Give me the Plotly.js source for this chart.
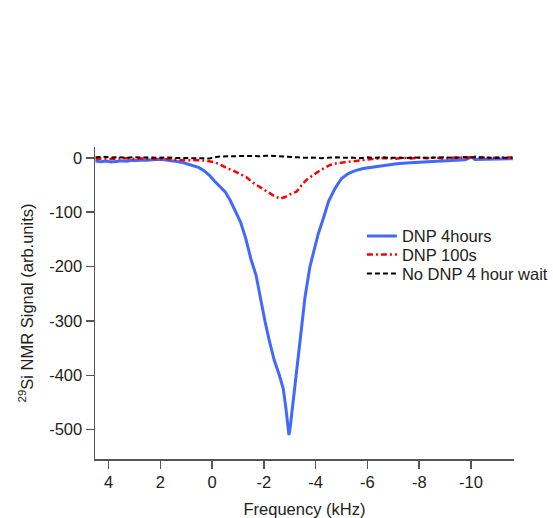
<!DOCTYPE html>
<html>
<head>
<meta charset="utf-8">
<script src="https://cdn.plot.ly/plotly-3.0.1.min.js"></script>
<style>html,body{margin:0;padding:0;background:#fff;}#chart{width:553px;height:518px;}</style>
</head>
<body>
<div id="chart"></div>
<script>
// DNP 4hours (blue)
const blueFreq = [4.50,4.30,4.10,3.90,3.70,3.50,3.30,3.10,2.90,2.70,2.50,2.30,2.10,1.90,1.70,1.50,1.30,1.10,0.90,0.70,0.50,0.30,0.10,-0.10,-0.30,-0.50,-0.70,-0.90,-1.10,-1.30,-1.50,-1.70,-1.90,-2.05,-2.20,-2.40,-2.60,-2.75,-2.85,-2.92,-2.97,-3.02,-3.08,-3.17,-3.27,-3.37,-3.46,-3.59,-3.78,-3.91,-4.10,-4.30,-4.50,-4.75,-5.00,-5.26,-5.50,-5.84,-6.20,-6.49,-6.80,-7.13,-7.50,-8.03,-8.50,-9.06,-9.40,-9.77,-9.95,-10.05,-10.15,-10.50,-10.90,-11.30,-11.62];
const blueSignal = [-6,-7,-6,-7.5,-6.5,-5.5,-6,-4.5,-5,-4,-4.5,-3,-2.5,-3,-4,-5.5,-7,-9,-12,-15,-18,-24,-32,-43,-52,-62,-78,-98,-118,-148,-186,-216,-268,-302,-334,-372,-400,-425,-460,-490,-510,-495,-470,-427,-384,-342,-304,-256,-200,-176,-140,-111,-80,-56,-38,-29,-24,-19.5,-17,-15,-13,-11,-9.5,-7.5,-6.5,-5.5,-4.5,-3.5,0,1,-3,-2.5,-2.5,-2,-1.5];

// DNP 100s (red)
const redFreq = [4.50,4.20,3.90,3.60,3.30,3.00,2.70,2.40,2.10,1.80,1.50,1.20,0.90,0.60,0.30,0.10,-0.10,-0.30,-0.57,-0.81,-1.05,-1.34,-1.59,-1.85,-2.11,-2.36,-2.63,-2.82,-3.01,-3.27,-3.51,-3.70,-3.90,-4.17,-4.56,-4.81,-5.20,-5.50,-5.83,-6.20,-6.49,-6.80,-7.10,-7.40,-7.70,-8.00,-8.30,-8.60,-8.90,-9.20,-9.50,-9.80,-10.10,-10.40,-10.70,-11.00,-11.30,-11.60];
const redSignal = [-2.5,-1,-2,-1.5,-0.5,-2,-1,-1.5,-2.5,-2,-3.5,-4,-4.5,-4,-5,-6,-8,-12,-19,-23,-29,-36,-46,-54,-62,-69,-75,-72,-67,-62,-47,-38,-32,-23,-13,-10,-7.5,-5.5,-4,-2,-1,-0.5,-1.5,0,-1,0.5,-0.5,0.5,-1,0,1,-0.5,2.5,0.5,-0.5,0.5,0,0.5];

// No DNP 4 hour wait (black)
const blackFreq = [4.50,4.20,3.90,3.60,3.30,3.00,2.70,2.40,2.10,1.80,1.50,1.20,0.90,0.60,0.30,0.10,-0.10,-0.30,-0.60,-0.90,-1.20,-1.50,-1.80,-2.10,-2.40,-2.70,-3.00,-3.30,-3.60,-3.90,-4.20,-4.50,-4.80,-5.10,-5.40,-5.70,-6.00,-6.30,-6.60,-6.90,-7.20,-7.50,-7.80,-8.10,-8.40,-8.70,-9.00,-9.30,-9.60,-9.90,-10.20,-10.50,-10.80,-11.10,-11.40,-11.60];
const blackSignal = [1,2,0.5,1.5,0,1.5,0.5,1,0,1,0,-0.5,-1,-1.5,-2,-1,1,2.5,3,3.5,3,3.5,3,4,3.5,3,2.5,1,0,0.5,-0.5,0,1,0,0.5,-0.5,1,0,1,0,0.5,-0.5,1,0,0.5,0,1,0,0.5,1.5,0.5,1,0,0.5,0,0.5];

const seriesNames = ["DNP 4hours", "DNP 100s", "No DNP 4 hour wait"];
const xTicks = [4,2,0,-2,-4,-6,-8,-10];
const yTicks = [0,-100,-200,-300,-400,-500];

const FONT = "Liberation Sans, Arial, Helvetica, sans-serif";
const FS = 16.5;

const traces = [
  {x: blueFreq, y: blueSignal, name: seriesNames[0], mode: "lines", legend: "legend",
   line: {color: "#4169FF", width: 3}},
  {x: redFreq, y: redSignal, name: seriesNames[1], mode: "lines", legend: "legend2",
   line: {color: "#FF0000", width: 2.5, dash: "6px,3px,2px,3px"}},
  {x: blackFreq, y: blackSignal, name: seriesNames[2], mode: "lines", legend: "legend3",
   line: {color: "#000000", width: 2, dash: "5px,3px"}}
];

function leg(y) {
  return {x: 0.637, y: y, xanchor: "left", yanchor: "top",
          bgcolor: "rgba(0,0,0,0)", font: {family: FONT, size: FS, color: "#222"}};
}

const layout = {
  width: 553, height: 518,
  margin: {l: 95, r: 39, t: 147, b: 59, autoexpand: false},
  paper_bgcolor: "#ffffff", plot_bgcolor: "#ffffff",
  font: {family: FONT, size: FS, color: "#222"},
  showlegend: true,
  legend: leg(0.770),
  legend2: leg(0.711),
  legend3: leg(0.650),
  xaxis: {
    range: [4.52, -11.66], tickvals: xTicks, ticktext: xTicks.map(String),
    showgrid: false, zeroline: false, showline: true, linecolor: "#555", linewidth: 1.5,
    ticks: "outside", ticklen: 8, tickwidth: 1.5, tickcolor: "#555",
    tickfont: {size: FS},
    title: {text: "Frequency (kHz)", font: {size: FS}, standoff: 14}
  },
  yaxis: {
    range: [-554, 20], tickvals: yTicks, ticktext: yTicks.map(String),
    showgrid: false, zeroline: false, showline: true, linecolor: "#555", linewidth: 1.5,
    ticks: "outside", ticklen: 8, tickwidth: 1.5, tickcolor: "#555",
    tickfont: {size: FS},
    title: {text: "<sup>29</sup>Si NMR Signal (arb.units)", font: {size: FS}, standoff: 11}
  }
};

Plotly.newPlot("chart", traces, layout, {displayModeBar: false, staticPlot: true});
</script>
</body>
</html>
